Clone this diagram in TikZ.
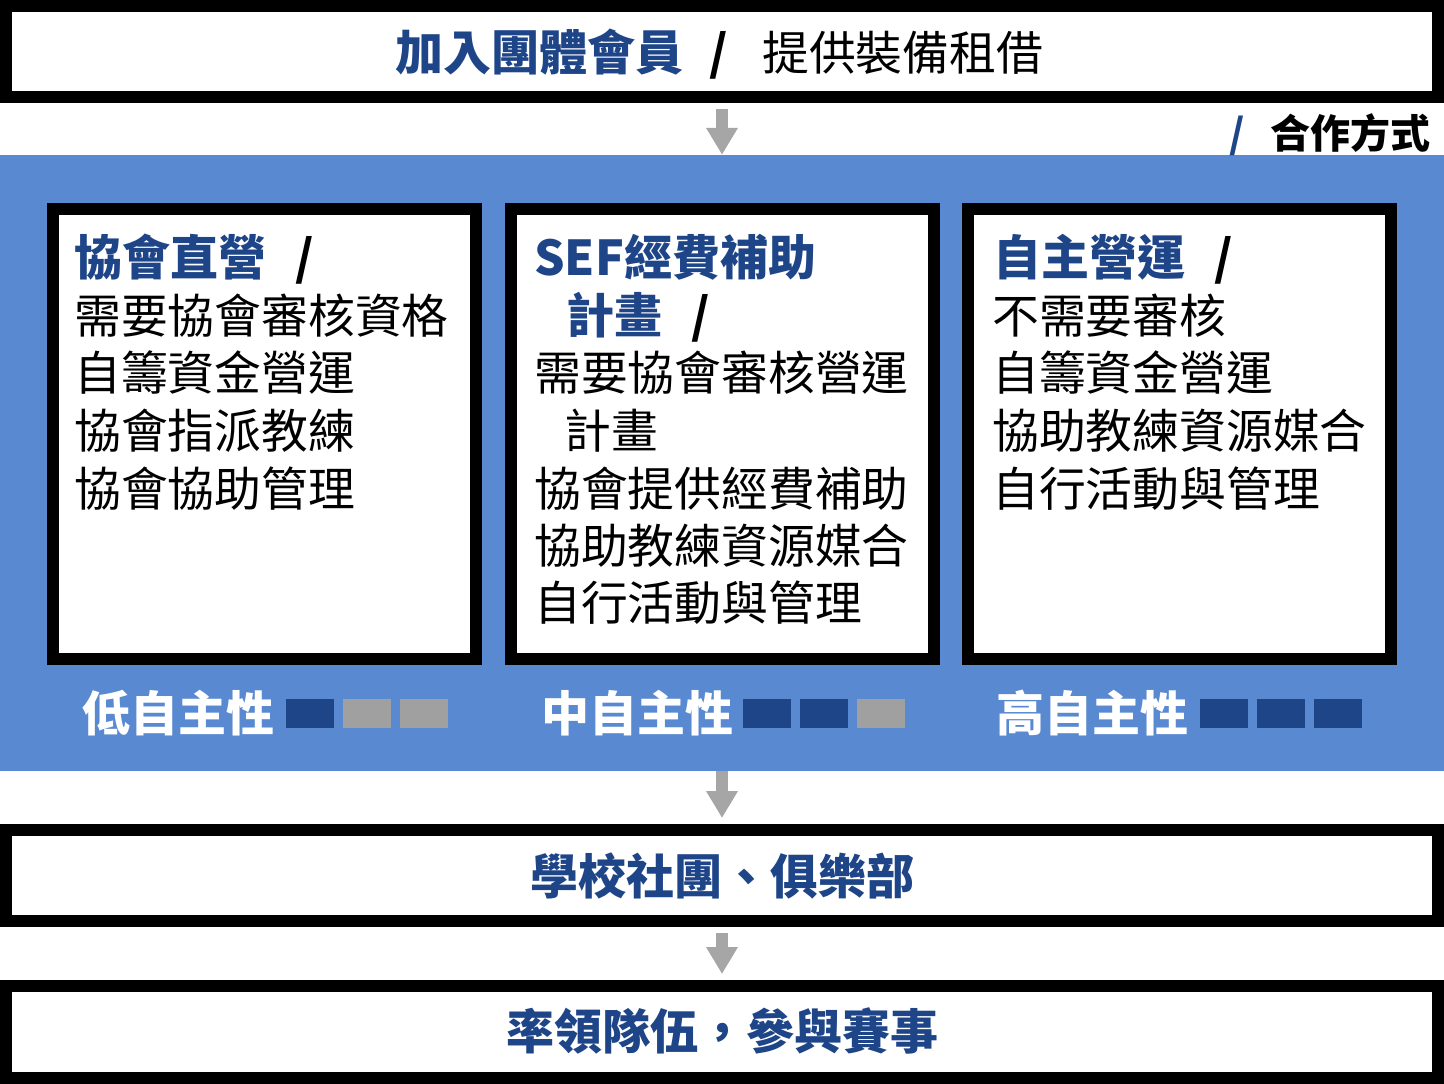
\documentclass[tikz,border=0pt]{standalone}
\usepackage{fontspec}
\setmainfont{Noto Sans CJK TC}
\usetikzlibrary{arrows.meta}
\definecolor{panelblue}{RGB}{89,137,208}
\definecolor{darkblue}{RGB}{31,69,137}
\definecolor{sqgray}{RGB}{160,160,160}
\definecolor{arrgray}{RGB}{166,166,166}
\begin{document}
\begin{tikzpicture}[x=1pt,y=-1pt,
  bigbox/.style={draw=black, line width=12pt, fill=white, minimum width=1432pt, inner sep=0pt},
  inbox/.style={draw=black, line width=12pt, fill=white, minimum width=423pt, minimum height=450pt, inner sep=0pt},
  txt/.style={inner sep=0pt, anchor=base west, font=\fontsize{46.8pt}{57pt}\selectfont},
  hd/.style={inner sep=0pt, anchor=base west, font=\fontsize{48pt}{57pt}\selectfont\bfseries, text=darkblue},
  sl/.style={inner sep=0pt, anchor=base, font=\fontsize{48pt}{57pt}\selectfont\bfseries},
  lab/.style={inner sep=0pt, anchor=base west, font=\fontsize{48pt}{57pt}\selectfont\bfseries, text=white},
  ctr/.style={inner sep=0pt, anchor=base, font=\fontsize{48pt}{57pt}\selectfont\bfseries, text=darkblue},
  sqd/.style={fill=darkblue, minimum width=48pt, minimum height=29pt, inner sep=0pt},
  sqg/.style={fill=sqgray, minimum width=48pt, minimum height=29pt, inner sep=0pt},
  flow/.style={draw=arrgray, line width=12pt, -{Triangle[width=30pt,length=27pt]}}
]
\useasboundingbox (0,0) rectangle (1444,1084);
% panel
\node[fill=panelblue, minimum width=1444pt, minimum height=616pt, inner sep=0pt] (panel) at (722,463) {};
% big boxes
\node[bigbox, minimum height=91pt] (top) at (722,51.5) {};
\node[bigbox, minimum height=91pt] (mid) at (722,875.5) {};
\node[bigbox, minimum height=92pt] (bot) at (722,1032) {};
% inner boxes
\node[inbox] (b1) at (264.5,434) {};
\node[inbox] (b2) at (722,434) {};
\node[inbox] (b3) at (1179,434) {};
% arrows
\draw[flow, shorten <=6pt] (top.south) -- (panel.north);
\draw[flow, shorten >=6pt] (panel.south) -- (mid.north);
\draw[flow, shorten <=6pt, shorten >=6pt] (mid.south) -- (bot.north);
% top text
\node[hd] (t1) at (395,70) {加入團體會員};
\node[sl] (t2) at (719,70) {/};
\node[txt] (t3) at (762,70) {提供裝備租借};
\node[sl, text=darkblue, font=\fontsize{40pt}{48pt}\selectfont\bfseries] (c1) at (1237,148) {/};
\node[txt, font=\fontsize{40pt}{48pt}\selectfont\bfseries] (c2) at (1270,148) {合作方式};
% box 1
\node[hd] (a0) at (74,275) {協會直營};
\node[sl] (a0s) at (305,275) {/};
\node[txt] (a1) at (74,333) {需要協會審核資格};
\node[txt] (a2) at (74,390) {自籌資金營運};
\node[txt] (a3) at (74,448) {協會指派教練};
\node[txt] (a4) at (74,506) {協會協助管理};
% box 2
\node[hd] (m0) at (534,275) {SEF經費補助};
\node[hd] (m1) at (566,333) {計畫};
\node[sl] (m1s) at (701,333) {/};
\node[txt] (m2) at (534,390) {需要協會審核營運};
\node[txt] (m3) at (564,448) {計畫};
\node[txt] (m4) at (534,506) {協會提供經費補助};
\node[txt] (m5) at (534,563) {協助教練資源媒合};
\node[txt] (m6) at (534,620) {自行活動與管理};
% box 3
\node[hd] (h0) at (993,275) {自主營運};
\node[sl] (h0s) at (1224,275) {/};
\node[txt] (h1) at (992,333) {不需要審核};
\node[txt] (h2) at (992,390) {自籌資金營運};
\node[txt] (h3) at (992,448) {協助教練資源媒合};
\node[txt] (h4) at (992,506) {自行活動與管理};
% autonomy labels
\node[lab] (l1) at (82,731) {低自主性};
\node[sqd] (q11) at (310,713.5) {};
\node[sqg] (q12) at (367,713.5) {};
\node[sqg] (q13) at (424,713.5) {};
\node[lab] (l2) at (541,731) {中自主性};
\node[sqd] (q21) at (767,713.5) {};
\node[sqd] (q22) at (824,713.5) {};
\node[sqg] (q23) at (881,713.5) {};
\node[lab] (l3) at (996,731) {高自主性};
\node[sqd] (q31) at (1224,713.5) {};
\node[sqd] (q32) at (1281,713.5) {};
\node[sqd] (q33) at (1338,713.5) {};
% bottom texts
\node[ctr] (mt) at (722,894) {學校社團、俱樂部};
\node[ctr] (bt) at (722,1049) {率領隊伍，參與賽事};
\end{tikzpicture}
\end{document}
